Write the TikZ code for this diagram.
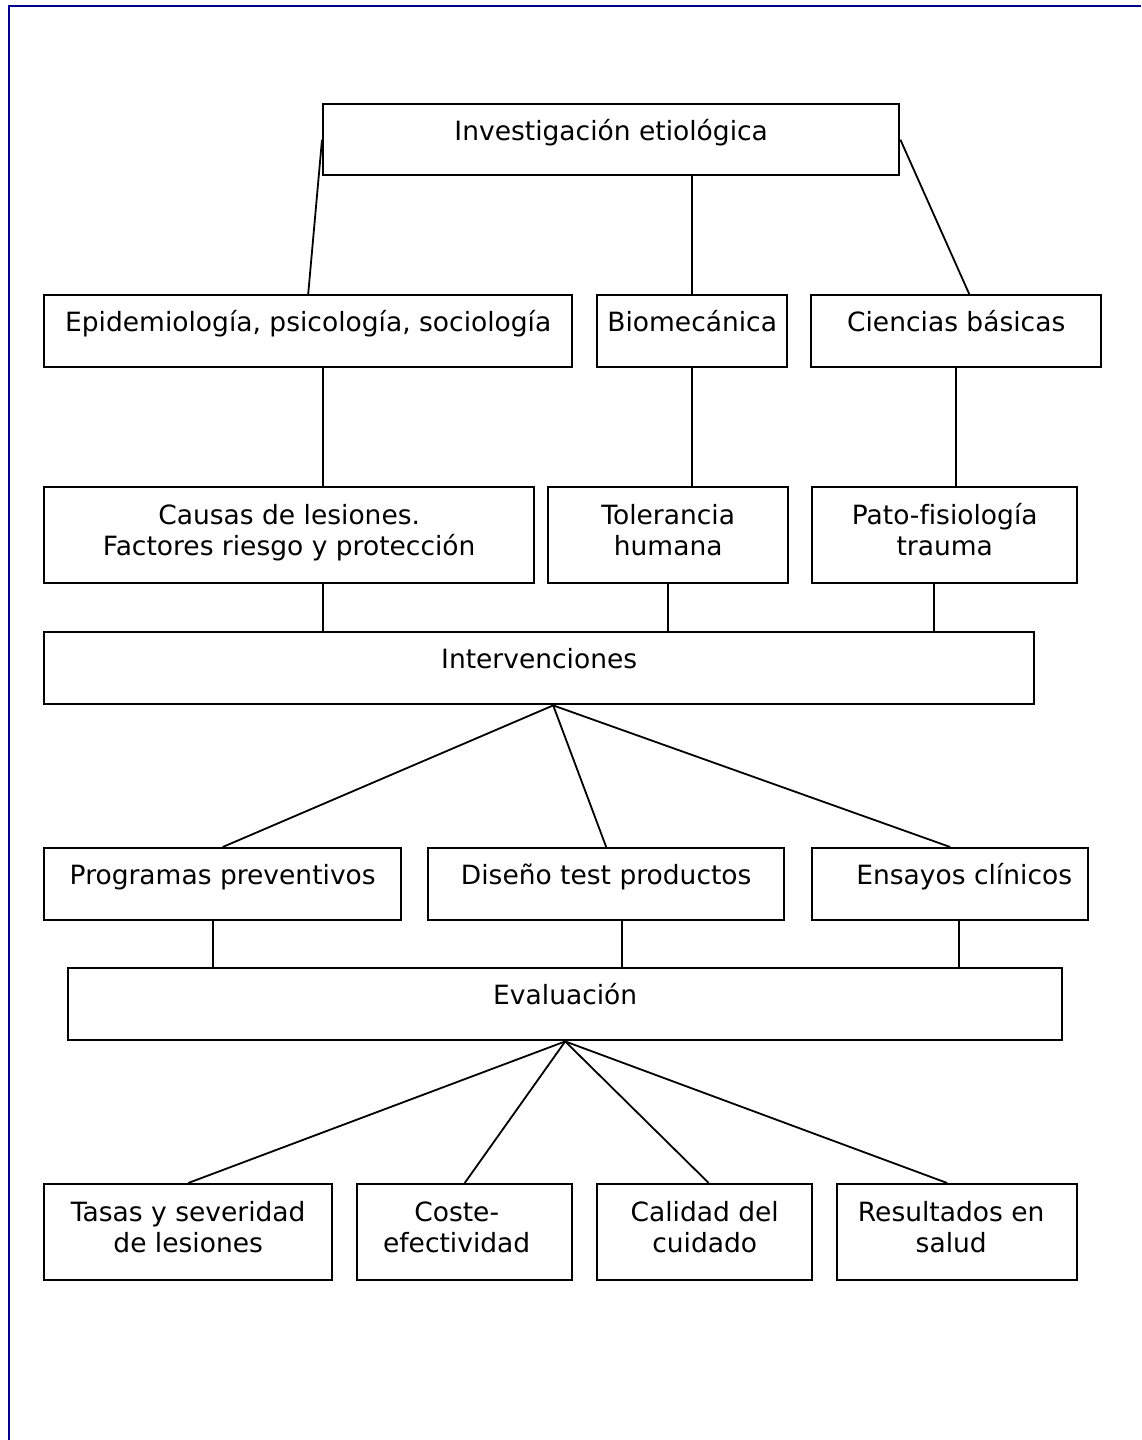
\documentclass[tikz,border=0pt]{standalone}
\usepackage{fontspec}
\setmainfont[Ligatures=NoCommon]{DejaVu Sans}
\definecolor{framenavy}{RGB}{0,0,140}
% box with one line of text
\newcommand\mkbox[7][0]{%
  \node[box, minimum width={#5-#3}, minimum height={#6-#4}] (#2) at (#3,#4) {};%
  \node[lbl] (#2t) at ([xshift=#1pt, yshift=-37pt]#2.north) {#7};}
% box with two lines of text (base anchor = last line)
\newcommand\mkboxii[7][0]{%
  \node[box, minimum width={#5-#3}, minimum height={#6-#4}] (#2) at (#3,#4) {};%
  \node[lbl] (#2t) at ([xshift=#1pt, yshift=-69pt]#2.north) {#7};}
\begin{document}
\begin{tikzpicture}[x=1pt,y=-1pt,
  box/.style={draw=black, line width=2.4pt, inner sep=0pt, anchor=north west},
  lbl/.style={font=\fontsize{26.5}{31}\selectfont, align=center, anchor=base, inner sep=0pt},
  conn/.style={draw=black, line width=1.8pt}]
\useasboundingbox (0,0) rectangle (1141,1440);
\fill[white] (0,0) rectangle (1141,1440);
\draw[framenavy, line width=2.5pt] (9,1440) -- (9,6) -- (1141,6);

\mkbox{inv}{322}{103}{898}{174}{Investigación etiológica}
\mkbox{epi}{43}{294}{571}{366}{Epidemiología, psicología, sociología}
\mkbox{bio}{596}{294}{786}{366}{Biomecánica}
\mkbox{cie}{810}{294}{1100}{366}{Ciencias básicas}
\mkboxii{cau}{43}{486}{533}{582}{Causas de lesiones.\\Factores riesgo y protección}
\mkboxii{tol}{547}{486}{787}{582}{Tolerancia\\humana}
\mkboxii{pat}{811}{486}{1076}{582}{Pato-fisiología\\trauma}
\mkbox{int}{43}{631}{1033}{703}{Intervenciones}
\mkbox{pro}{43}{847}{400}{919}{Programas preventivos}
\mkbox{dis}{427}{847}{783}{919}{Diseño test productos}
\mkbox[14]{ens}{811}{847}{1087}{919}{Ensayos clínicos}
\mkbox{eva}{67}{967}{1061}{1039}{Evaluación}
\mkboxii{tas}{43}{1183}{331}{1279}{Tasas y severidad\\de lesiones}
\mkboxii[-8]{cos}{356}{1183}{571}{1279}{Coste-\\efectividad}
\mkboxii{cal}{596}{1183}{811}{1279}{Calidad del\\cuidado}
\mkboxii[-6]{res}{836}{1183}{1076}{1279}{Resultados en\\salud}

% level 1
\draw[conn] (inv.west) -- (epi.north);
\draw[conn] (bio.north) -- (bio.north |- inv.south);
\draw[conn] (inv.east) -- ([xshift=13pt]cie.north);
% level 2
\draw[conn] ([xshift=34pt]cau.north) -- ([xshift=34pt]cau.north |- epi.south);
\draw[conn] (bio.south) -- (bio.south |- tol.north);
\draw[conn] (cie.south) -- (cie.south |- pat.north);
% level 3
\draw[conn] ([xshift=34pt]cau.south) -- ([xshift=34pt]cau.south |- int.north);
\draw[conn] (tol.south) -- (tol.south |- int.north);
\draw[conn] ([xshift=-11pt]pat.south) -- ([xshift=-11pt]pat.south |- int.north);
% interventions
\coordinate (ib) at ([xshift=14pt]int.south);
\draw[conn] (ib) -- (pro.north);
\draw[conn] (ib) -- (dis.north);
\draw[conn] (ib) -- (ens.north);
% to evaluation
\draw[conn] ([xshift=-10pt]pro.south) -- ([xshift=-10pt]pro.south |- eva.north);
\draw[conn] ([xshift=16pt]dis.south) -- ([xshift=16pt]dis.south |- eva.north);
\draw[conn] ([xshift=9pt]ens.south) -- ([xshift=9pt]ens.south |- eva.north);
% outcomes
\draw[conn] (eva.south) -- (tas.north);
\draw[conn] (eva.south) -- (cos.north);
\draw[conn] (eva.south) -- ([xshift=4pt]cal.north);
\draw[conn] (eva.south) -- ([xshift=-10pt]res.north);
\end{tikzpicture}
\end{document}
